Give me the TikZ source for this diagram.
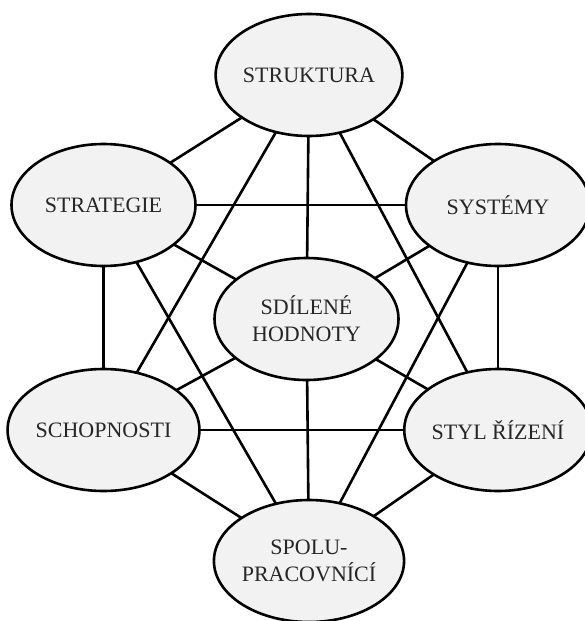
\documentclass[tikz,border=0pt]{standalone}
\usepackage{fontspec}
\setmainfont{Liberation Serif}
\usetikzlibrary{shapes.geometric}
\pgfdeclarelayer{bg}
\pgfsetlayers{bg,main}
\begin{document}
\begin{tikzpicture}[x=1pt,y=-1pt,
  elem/.style={ellipse,draw=black,line width=2.6pt,fill=gray!10,
    minimum width=184pt,minimum height=122pt,inner sep=0pt,
    align=center,text=black!85,font=\fontsize{22}{27}\selectfont},
  link/.style={line width=2.6pt,draw=black}]
\useasboundingbox (0,0) rectangle (585,621);
\node[elem] (struktura) at (309,75) {STRUKTURA};
\node[elem] (strategie) at (103.5,205) {STRATEGIE};
\node[elem] (systemy) at (498,205) {SYSTÉMY};
\node[elem] (hodnoty) at (306.5,319) {SDÍLENÉ\\HODNOTY};
\node[elem] (schopnosti) at (103.5,430) {SCHOPNOSTI};
\node[elem] (styl) at (498,430) {STYL ŘÍZENÍ};
\node[elem] (spolu) at (309,561) {SPOLU-\\PRACOVNÍCÍ};
% connectors, centre to centre, beneath the filled ellipses
\begin{pgfonlayer}{bg}
\foreach \a/\b in {struktura/strategie,struktura/systemy,struktura/hodnoty,
                   struktura/schopnosti,struktura/styl,
                   strategie/systemy,strategie/hodnoty,strategie/schopnosti,strategie/spolu,
                   systemy/hodnoty,systemy/styl,systemy/spolu,
                   hodnoty/schopnosti,hodnoty/styl,hodnoty/spolu,
                   schopnosti/styl,schopnosti/spolu,styl/spolu}
  \draw[link] (\a.center) -- (\b.center);
\end{pgfonlayer}
\end{tikzpicture}
\end{document}
